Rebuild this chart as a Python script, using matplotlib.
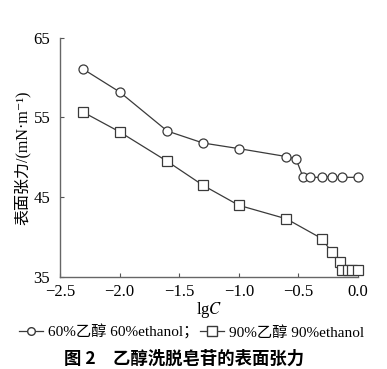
import matplotlib
matplotlib.use('Agg')
import matplotlib.pyplot as plt
from matplotlib.lines import Line2D

plt.rcParams['font.family'] = ['Liberation Serif', 'Noto Sans CJK SC', 'DejaVu Serif']
plt.rcParams['mathtext.fontset'] = 'stix'

# 60% 乙醇
lgc_60 = [-2.31, -2.0, -1.6, -1.3, -1.0, -0.6, -0.52, -0.46, -0.40, -0.30, -0.22, -0.13, 0.0]
st_60 = [61.1, 58.2, 53.3, 51.8, 51.1, 50.1, 49.8, 47.5, 47.5, 47.5, 47.6, 47.5, 47.5]

# 90% 乙醇
lgc_90 = [-2.31, -2.0, -1.6, -1.3, -1.0, -0.6, -0.3, -0.22, -0.15, -0.13, -0.08, -0.05, 0.0]
st_90 = [55.7, 53.2, 49.5, 46.5, 44.0, 42.3, 39.8, 38.1, 36.9, 35.9, 35.9, 35.9, 35.9]

xticks = [-2.5, -2.0, -1.5, -1.0, -0.5, 0.0]
yticks = [35, 45, 55, 65]

fig = plt.figure(figsize=(3.87, 3.69), dpi=100)
ax = fig.add_axes([0.155, 0.249, 0.77, 0.649])

lc = '#3a3a3a'
ax.plot(lgc_60, st_60, color=lc, lw=0.9, marker='o', ms=6.5, mfc='white', mec=lc, mew=0.9, clip_on=False, zorder=3)
ax.plot(lgc_90, st_90, color=lc, lw=0.9, marker='s', ms=6.5, mfc='white', mec=lc, mew=0.9, clip_on=False, zorder=3)

ax.set_xlim(-2.5, 0.0)
ax.set_ylim(35, 65)
ax.set_xticks(xticks)
ax.set_xticklabels(['\u22122.5', '\u22122.0', '\u22121.5', '\u22121.0', '\u22120.5', '0.0'])
ax.set_yticks(yticks)
ax.tick_params(direction='in', length=3, width=0.8, color='#555555', labelsize=12, pad=5)
ax.tick_params(axis='y', pad=7)
for s in ['top', 'right']:
    ax.spines[s].set_visible(False)
for s in ['left', 'bottom']:
    ax.spines[s].set_color('#666666')
    ax.spines[s].set_linewidth(1.0)

ax.set_xlabel('lg$\\it{C}$', fontsize=12, labelpad=0)
ax.set_ylabel('表面张力/(mN·m⁻¹)', fontsize=11.5, labelpad=2,
              family=['Liberation Serif', 'Noto Sans CJK SC', 'DejaVu Serif'])

h1 = Line2D([], [], color=lc, lw=0.9, marker='o', ms=5.5, mfc='white', mec=lc)
h2 = Line2D([], [], color=lc, lw=0.9, marker='s', ms=6.5, mfc='white', mec=lc)
fig.legend([h1, h2], ['60%乙醇 60%ethanol；', '90%乙醇 90%ethanol'],
           loc='center', bbox_to_anchor=(0.495, 0.1), ncol=2, frameon=False,
           fontsize=11, handlelength=1.6, handletextpad=0.3, columnspacing=0.1,
           borderaxespad=0)

fig.text(0.475, 0.027, '图 2　乙醇洗脱皂苷的表面张力', ha='center', va='center',
         fontsize=12.5, fontweight='bold', family=['Noto Sans CJK SC'])

fig.savefig('out.png', dpi=100)
